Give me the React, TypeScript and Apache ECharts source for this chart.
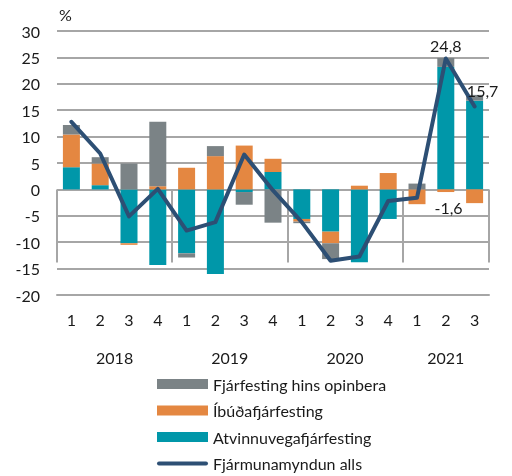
import React, { useEffect, useRef } from "react";
import * as echarts from "echarts";

const quarters = ["1", "2", "3", "4", "1", "2", "3", "4", "1", "2", "3", "4", "1", "2", "3"];
const years = ["2018", "2019", "2020", "2021"];
const quartersPerYear = [4, 4, 4, 3];

const atvinnuvega = [4.2, 0.8, -10.2, -14.3, -12.1, -16.0, -0.5, 3.3, -5.6, -8.0, -13.8, -5.6, 0, 23.2, 16.8];
const ibudafjar = [6.2, 4.1, -0.3, 0.6, 4.1, 6.3, 8.3, 2.5, -0.5, -2.2, 0.7, 3.1, -2.8, -0.5, -2.6];
const opinbera = [1.8, 1.2, 4.9, 12.2, -0.8, 1.9, -2.4, -6.3, -0.3, -3.0, 0, 0, 1.1, 1.7, 1.1];
const alls = [12.8, 6.8, -5.1, 0.1, -7.8, -6.2, 6.6, -0.2, -6.2, -13.5, -12.7, -2.2, -1.6, 24.8, 15.7];

const yTicks = { min: -20, max: 30, interval: 5 };

const names = {
  gray: "Fjárfesting hins opinbera",
  orange: "Íbúðafjárfesting",
  teal: "Atvinnuvegafjárfesting",
  line: "Fjármunamyndun alls",
};

const FONT = "Lato";
const GRID_COLOR = "#a6a6a6";
const TEXT_COLOR = "#1a1a1a";
const LINE_COLOR = "#2d4f74";

export default function App() {
  const ref = useRef<HTMLDivElement>(null);

  useEffect(() => {
    if (!ref.current) return;
    const chart = echarts.init(ref.current, null, { renderer: "svg" });

    const bounds: number[] = [0];
    const centers: number[] = [];
    quartersPerYear.forEach((n) => {
      const start = bounds[bounds.length - 1];
      centers.push(start + n / 2);
      bounds.push(start + n);
    });

    const labelCfg = (pos: any) => ({
      show: true,
      ...pos,
      color: TEXT_COLOR,
      fontFamily: FONT,
      fontSize: 16,
      formatter: (p: any) => String(p.value).replace(".", ","),
    });

    const lineData = alls.map((v, i) => {
      if (i === 12) return { value: v, label: labelCfg({ position: "right", distance: 4, offset: [13, 10] }) };
      if (i === 13) return { value: v, label: labelCfg({ position: "top", distance: 4 }) };
      if (i === 14) return { value: v, label: labelCfg({ position: "top", distance: 8, offset: [8, 0] }) };
      return v;
    });

    const option: any = {
      animation: false,
      textStyle: { fontFamily: FONT },
      grid: { left: 57, right: 23, top: 31, bottom: 181 },
      legend: {
        orient: "vertical",
        left: 157,
        top: 375,
        height: 100,
        padding: 0,
        itemWidth: 51,
        itemHeight: 10,
        itemGap: 8.5,
        textStyle: { fontFamily: FONT, fontSize: 16, color: TEXT_COLOR, lineHeight: 18 },
        data: [
          { name: names.gray, icon: "rect" },
          { name: names.orange, icon: "rect" },
          { name: names.teal, icon: "rect" },
          {
            name: names.line,
            icon: "path://M2,0 L49,0 A2,2 0 0 1 49,4 L2,4 A2,2 0 0 1 2,0 Z",
            itemStyle: { color: LINE_COLOR },
          },
        ],
      },
      xAxis: [
        {
          type: "category",
          data: quarters,
          position: "bottom",
          boundaryGap: true,
          axisLine: { show: true, onZero: false, lineStyle: { color: GRID_COLOR, width: 2 } },
          axisTick: { show: false },
          axisLabel: { interval: 0, margin: 16, fontFamily: FONT, fontSize: 16, color: TEXT_COLOR },
          splitLine: { show: false },
        },
        {
          type: "value",
          position: "bottom",
          min: 0,
          max: bounds[bounds.length - 1],
          axisLine: { show: false },
          splitLine: { show: false },
          axisTick: {
            show: true,
            customValues: bounds,
            length: 73,
            lineStyle: { color: GRID_COLOR, width: 2 },
          },
          axisLabel: {
            customValues: centers,
            margin: 54,
            fontFamily: FONT,
            fontSize: 16,
            color: TEXT_COLOR,
            formatter: (v: number) => {
              const idx = centers.findIndex((c) => Math.abs(c - v) < 1e-6);
              return idx >= 0 ? years[idx] : "";
            },
          },
        },
      ],
      yAxis: {
        type: "value",
        min: yTicks.min,
        max: yTicks.max,
        interval: yTicks.interval,
        name: "%",
        nameLocation: "end",
        nameGap: 9,
        nameTextStyle: { fontFamily: FONT, fontSize: 16, color: TEXT_COLOR, align: "left", padding: [0, 0, 0, 2] },
        axisLine: { show: false },
        axisTick: { show: false },
        axisLabel: { margin: 17, fontFamily: FONT, fontSize: 16, color: TEXT_COLOR },
        splitLine: { show: true, lineStyle: { color: GRID_COLOR, width: 2 } },
      },
      series: [
        {
          name: names.teal,
          type: "bar",
          stack: "inv",
          data: atvinnuvega,
          barWidth: 17,
          itemStyle: { color: "#0097a9" },
        },
        {
          name: names.orange,
          type: "bar",
          stack: "inv",
          data: ibudafjar,
          barWidth: 17,
          itemStyle: { color: "#e48741" },
        },
        {
          name: names.gray,
          type: "bar",
          stack: "inv",
          data: opinbera,
          barWidth: 17,
          itemStyle: { color: "#7b8386" },
        },
        {
          name: names.line,
          type: "line",
          data: lineData,
          symbol: "circle",
          symbolSize: 1,
          showSymbol: true,
          lineStyle: { color: LINE_COLOR, width: 4, cap: "round", join: "round" },
          itemStyle: { color: LINE_COLOR },
          z: 5,
        },
      ],
    };

    chart.setOption(option);
    return () => chart.dispose();
  }, []);

  return (
    <div
      ref={ref}
      style={{ position: "fixed", left: 0, top: 0, width: 512, height: 476 }}
    />
  );
}
